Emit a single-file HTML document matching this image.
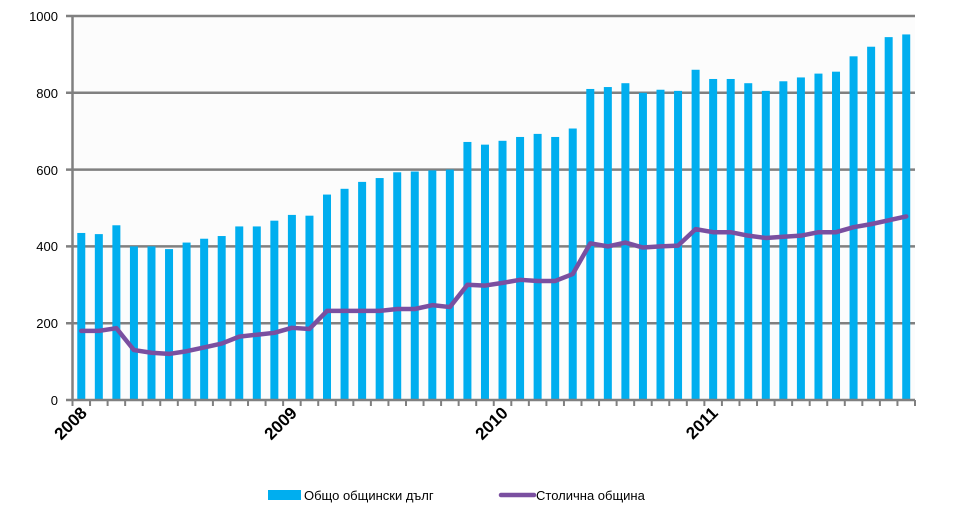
<!DOCTYPE html>
<html><head><meta charset="utf-8"><style>
html,body{margin:0;padding:0;background:#fff;}
svg{display:block;font-family:"Liberation Sans",sans-serif;}
</style></head><body>
<svg id="c" width="960" height="521" xmlns="http://www.w3.org/2000/svg">
<rect x="72" y="16" width="843" height="384" fill="#fcfcfc"/>
<g id="grid" stroke="#808080" stroke-width="2.5">
<line x1="66" y1="16" x2="915" y2="16"/>
<line x1="66" y1="92.8" x2="915" y2="92.8"/>
<line x1="66" y1="169.6" x2="915" y2="169.6"/>
<line x1="66" y1="246.4" x2="915" y2="246.4"/>
<line x1="66" y1="323.2" x2="915" y2="323.2"/>
</g>
<g id="bars" fill="#00aeef"></g>
<polyline id="ln" fill="none" stroke="#7a4fa0" stroke-width="4.5" stroke-linejoin="round" stroke-linecap="round"/>
<g stroke="#808080" stroke-width="2.5">
<line x1="72.5" y1="16" x2="72.5" y2="400"/>
<line x1="66" y1="400" x2="915" y2="400"/>
</g>
<g id="ticks" stroke="#808080" stroke-width="2"></g>
<g font-size="13" fill="#000" text-anchor="end">
<text x="58" y="21">1000</text>
<text x="58" y="98">800</text>
<text x="58" y="175">600</text>
<text x="58" y="251">400</text>
<text x="58" y="328">200</text>
<text x="58" y="405">0</text>
</g>
<g font-size="17" font-weight="bold" fill="#000" text-anchor="end">
<text transform="translate(88,414) rotate(-45)">2008</text>
<text transform="translate(298,414) rotate(-45)">2009</text>
<text transform="translate(509,414) rotate(-45)">2010</text>
<text transform="translate(719,414) rotate(-45)">2011</text>
</g>
<rect x="268" y="490" width="33" height="10" fill="#00aeef"/>
<text x="304" y="500" font-size="13" fill="#000">Общо общински дълг</text>
<line x1="501" y1="495" x2="534" y2="495" stroke="#7a4fa0" stroke-width="4.5" stroke-linecap="round"/>
<text x="536" y="500" font-size="13" fill="#000">Столична община</text>
</svg>
<script>
var b=[435,432,455,400,400,393,410,420,427,452,452,467,482,480,535,550,568,578,593,595,598,600,672,665,675,685,693,685,707,810,815,825,800,808,805,860,836,836,825,805,830,840,850,855,895,920,945,952];
var l=[180,180,187,130,123,120,127,137,147,165,170,175,188,185,232,232,232,232,237,237,247,242,300,298,305,313,310,310,328,408,400,410,397,400,402,445,437,437,428,422,425,428,437,437,450,458,468,478];
var NS="http://www.w3.org/2000/svg",x0=72.5,w=842.5/48,y0=400,k=0.384;
var g=document.getElementById('bars'),t=document.getElementById('ticks'),pts=[];
for(var i=0;i<48;i++){var cx=x0+w*(i+0.5);
var r=document.createElementNS(NS,'rect');r.setAttribute('x',cx-4);r.setAttribute('width',8);
r.setAttribute('y',y0-b[i]*k);r.setAttribute('height',b[i]*k);g.appendChild(r);
pts.push(cx+','+(y0-l[i]*k));}
for(var i=0;i<=48;i++){var x=x0+w*i;var s=document.createElementNS(NS,'line');
s.setAttribute('x1',x);s.setAttribute('x2',x);s.setAttribute('y1',400);s.setAttribute('y2',406);t.appendChild(s);}
document.getElementById('ln').setAttribute('points',pts.join(' '));
</script>
</body></html>
